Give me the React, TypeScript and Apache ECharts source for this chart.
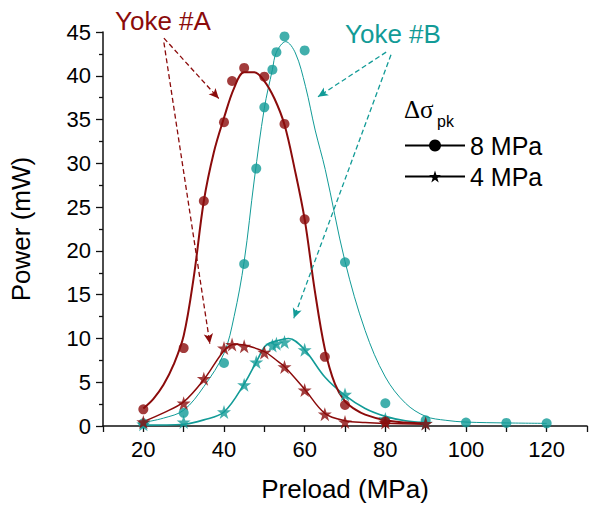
import React, { useEffect, useRef } from "react";
import * as echarts from "echarts";

// ---- data ----
const red8Points: number[][] = [[20, 1.9], [30, 8.9], [35, 25.7], [40, 34.7], [42, 39.4], [45, 40.9], [50, 39.9], [55, 34.5], [60, 23.6], [65, 7.9], [70, 2.4], [80, 0.5]];
const teal8Points: number[][] = [[20, 0.3], [30, 1.5], [40, 7.2], [45, 18.5], [48, 29.4], [50, 36.4], [52, 40.7], [53, 42.7], [55, 44.5], [60, 42.9], [70, 18.7], [80, 2.6], [90, 0.65], [100, 0.4], [110, 0.35], [120, 0.3]];
const red4Points: number[][] = [[20, 0.46], [30, 2.6], [35, 5.4], [40, 8.9], [42, 9.3], [45, 9.1], [50, 8.4], [55, 6.75], [60, 4.1], [65, 1.35], [70, 0.45], [80, 0.4], [90, 0.28]];
const teal4Points: number[][] = [[20, 0.2], [30, 0.45], [40, 1.6], [45, 4.7], [48, 7.3], [52, 9.2], [53, 9.4], [55, 9.6], [60, 8.7], [70, 3.6], [80, 0.8], [90, 0.3]];

const red8Fit: number[][] = [[20, 2.0], [22.5, 3.1], [25, 4.7], [27.5, 7.0], [30, 10.3], [32.5, 17.0], [35, 25.7], [37.5, 31.3], [40, 35.2], [42.5, 38.6], [45, 40.4], [47.5, 40.4], [50, 39.4], [52.5, 37.4], [55, 34.4], [57.5, 29.4], [60, 23.6], [62.5, 15.5], [65, 8.8], [67.5, 4.8], [70, 2.8], [72.5, 1.9], [75, 1.3], [80, 0.65], [85, 0.4], [90, 0.27]];
const red4Fit: number[][] = [[20, 0.5], [25, 1.5], [30, 2.75], [35, 5.3], [40, 8.6], [42.5, 9.35], [45, 9.25], [50, 8.5], [53.6, 7.3], [55, 6.8], [60, 4.2], [65, 1.45], [70, 0.6], [75, 0.4], [80, 0.3], [90, 0.2]];
const teal8Fit: number[][] = [[20, 0.4], [25, 0.9], [30, 1.8], [35, 4.5], [40, 8.3], [42.5, 12.5], [45, 18.8], [47.5, 28.1], [50, 36.3], [52, 40.7], [53, 42.7], [55.3, 43.9], [57.7, 42.6], [60.2, 38.8], [62.6, 33.8], [65.1, 29.3], [70, 18.8], [75, 10.9], [80, 5.6], [85, 2.6], [90, 1.1], [95, 0.65], [100, 0.45], [110, 0.35], [120, 0.3]];
const teal4Fit: number[][] = [[20, 0.1], [30, 0.2], [35, 0.7], [40, 1.6], [45, 4.8], [48, 7.3], [50.4, 9.2], [53.6, 9.8], [56, 10.0], [60, 8.7], [65, 5.6], [70, 3.5], [75, 2.0], [80, 1.1], [85, 0.6], [90, 0.4]];

const xTickLabels = [20, 40, 60, 80, 100, 120];
const legendNames = ["8 MPa", "4 MPa"];

// annotation arrows in data coordinates: [start, end]
const arrowsA: number[][][] = [[[25.1, 44.3], [38.7, 37.4]], [[25.1, 43.8], [36.5, 9.4]]];
const arrowsB: number[][][] = [[[80.2, 42.7], [63.3, 37.6]], [[81.4, 42.4], [57.3, 12.3]]];

const RED = "#8b0b0b";
const TEAL = "#129b97";
const FONT = '"Liberation Sans", Arial, sans-serif';
const STAR = "path://M50,2 L61.8,38.2 L99.5,38.2 L69,60.6 L80.6,96.8 L50,74.4 L19.4,96.8 L31,60.6 L0.5,38.2 L38.2,38.2 Z";

export default function App() {
  const ref = useRef<HTMLDivElement>(null);
  useEffect(() => {
    document.body.style.margin = "0";
    const chart = echarts.init(ref.current!, null, { renderer: "svg" });
    const arrowLine = (color: string, arr: number[][][]) => ({
      silent: true,
      symbol: ["none", "arrow"],
      symbolSize: [7, 10],
      label: { show: false },
      lineStyle: { color, width: 1.3, type: [5, 3] },
      emphasis: { disabled: true },
      data: arr.map((a) => [{ coord: a[0] }, { coord: a[1] }]),
    });
    const fit = (data: number[][], color: string, width: number, z: number, extra: any = {}) => ({
      type: "line", data, smooth: 0.35, showSymbol: false, lineStyle: { color, width }, z, ...extra,
    });
    chart.setOption({
      animation: false,
      backgroundColor: "#ffffff",
      grid: { left: 102, right: 0, top: 32, bottom: 81 },
      xAxis: {
        type: "value",
        min: 10,
        max: 130,
        interval: 10,
        name: "Preload (MPa)",
        nameLocation: "middle",
        nameGap: 50,
        nameTextStyle: { fontFamily: FONT, fontSize: 26, color: "#000" },
        axisLine: { show: true, lineStyle: { color: "#111", width: 1.5 } },
        axisTick: { show: true, length: 6, lineStyle: { color: "#111", width: 1.3 } },
        axisLabel: {
          margin: 12,
          fontFamily: FONT,
          fontSize: 22,
          color: "#000",
          formatter: (v: number) => (xTickLabels.indexOf(v) >= 0 ? String(v) : ""),
        },
        splitLine: { show: false },
      },
      yAxis: {
        type: "value",
        min: 0,
        max: 45,
        interval: 5,
        name: "Power (mW)",
        nameLocation: "middle",
        nameGap: 69,
        nameTextStyle: { fontFamily: FONT, fontSize: 26, color: "#000" },
        axisLine: { show: true, lineStyle: { color: "#111", width: 1.5 } },
        axisTick: { show: true, length: 7, lineStyle: { color: "#111", width: 1.3 } },
        minorTick: { show: true, splitNumber: 2, length: 4, lineStyle: { color: "#111", width: 1.3 } },
        axisLabel: { margin: 12, fontFamily: FONT, fontSize: 22, color: "#000" },
        splitLine: { show: false },
      },
      legend: {
        data: legendNames,
        orient: "vertical",
        left: 404,
        top: 133,
        padding: 0,
        itemWidth: 60,
        itemHeight: 15,
        itemGap: 6,
        selectedMode: false,
        textStyle: { fontFamily: FONT, fontSize: 25, color: "#000" },
      },
      series: [
        fit(teal8Fit, TEAL, 1, 2),
        fit(teal4Fit, TEAL, 1.6, 2),
        fit(red8Fit, RED, 2, 3, { markLine: arrowLine(RED, arrowsA) }),
        fit(red4Fit, RED, 1.5, 3, { markLine: arrowLine(TEAL, arrowsB) }),
        { type: "scatter", data: teal8Points, symbol: "circle", symbolSize: 10, itemStyle: { color: TEAL }, z: 4 },
        { type: "scatter", data: teal4Points, symbol: STAR, symbolSize: 14, itemStyle: { color: TEAL }, z: 4 },
        { type: "scatter", data: red8Points, symbol: "circle", symbolSize: 10, itemStyle: { color: RED }, z: 5 },
        { type: "scatter", data: red4Points, symbol: STAR, symbolSize: 14, itemStyle: { color: RED }, z: 5 },
        { name: legendNames[0], type: "line", data: [], symbol: "circle", symbolSize: 9, itemStyle: { color: "#000" }, lineStyle: { color: "#000", width: 1 } },
        { name: legendNames[1], type: "line", data: [], symbol: STAR, symbolSize: 13, itemStyle: { color: "#000" }, lineStyle: { color: "#000", width: 1 } },
      ],
      graphic: [
        { type: "text", x: 115, y: 21, silent: true, style: { text: "Yoke #A", fill: RED, font: `26px ${FONT}`, align: "left", verticalAlign: "middle" } },
        { type: "text", x: 345, y: 34, silent: true, style: { text: "Yoke #B", fill: TEAL, font: `26px ${FONT}`, align: "left", verticalAlign: "middle" } },
        { type: "text", x: 404, y: 109, silent: true, style: { text: "Δσ", fill: "#000", font: `25px "Liberation Serif", "Times New Roman", serif`, align: "left", verticalAlign: "middle" } },
        { type: "text", x: 437, y: 121, silent: true, style: { text: "pk", fill: "#000", font: `16px ${FONT}`, align: "left", verticalAlign: "middle" } },
      ],
    });
    return () => chart.dispose();
  }, []);
  return <div ref={ref} style={{ width: 590, height: 507 }} />;
}
